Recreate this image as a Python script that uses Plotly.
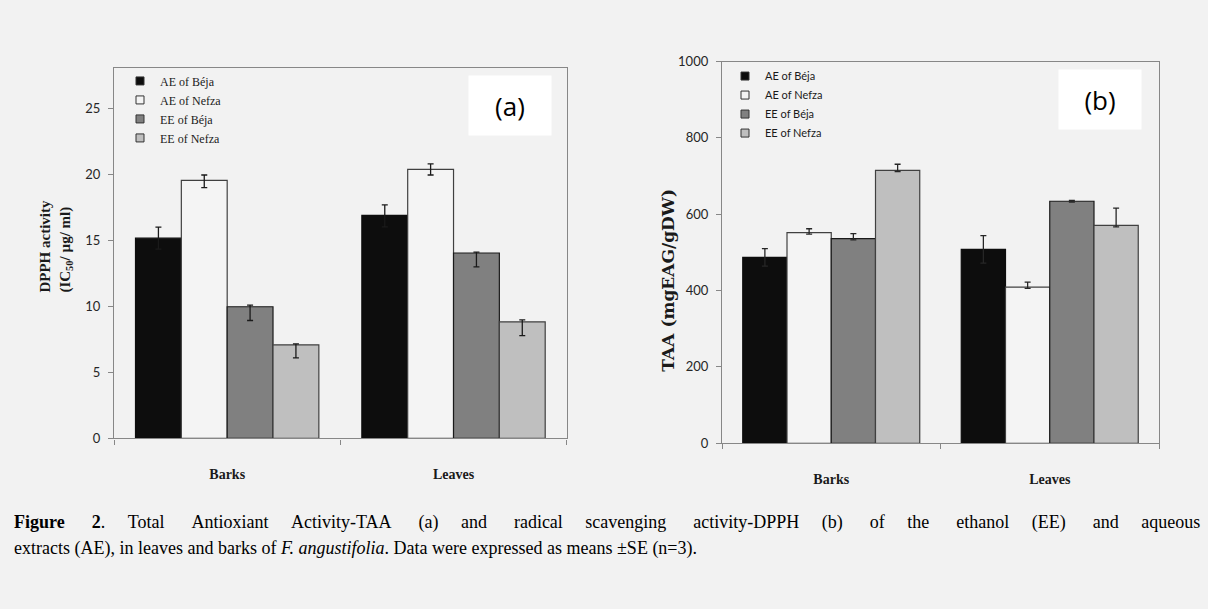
import plotly.graph_objects as go

W, H = 1208, 609

categories = ["Barks", "Leaves"]
series_names = ["AE of Béja", "AE of Nefza", "EE of Béja", "EE of Nefza"]
series_colors = ["#0d0d0d", "#f4f4f4", "#808080", "#bfbfbf"]

# Panel (a): DPPH activity (IC50 / µg/ml)
dpph_ae_beja = [15.15, 16.87]
dpph_ae_nefza = [19.53, 20.35]
dpph_ee_beja = [9.96, 14.03]
dpph_ee_nefza = [7.08, 8.82]
dpph_err_plus = [[0.83, 0.80], [0.40, 0.43], [0.13, 0.07], [0.07, 0.15]]
dpph_err_minus = [[0.83, 0.87], [0.55, 0.42], [1.04, 1.05], [0.98, 1.05]]

# Panel (b): TAA (mgEAG/gDW)
taa_ae_beja = [487, 508]
taa_ae_nefza = [552, 409]
taa_ee_beja = [536, 634]
taa_ee_nefza = [715, 571]
taa_err_plus = [[23, 36], [10, 13], [13, 2], [16, 45]]
taa_err_minus = [[23, 36], [4, 3], [3, 2], [3, 4]]

y_ticks_a = [0, 5, 10, 15, 20, 25]
y_ticks_b = [0, 200, 400, 600, 800, 1000]

caption_line1_words = ["<b>Figure", "2</b>.", "Total", "Antioxiant", "Activity-TAA", "(a)", "and",
                       "radical", "scavenging", "activity-DPPH", "(b)", "of", "the", "ethanol",
                       "(EE)", "and", "aqueous"]
caption_line2 = ("extracts (AE), in leaves and barks of <i>F. angustifolia</i>. "
                 "Data were expressed as means ±SE (n=3).")

dpph = [dpph_ae_beja, dpph_ae_nefza, dpph_ee_beja, dpph_ee_nefza]
taa = [taa_ae_beja, taa_ae_nefza, taa_ee_beja, taa_ee_nefza]

BG = "#f2f2f2"
AXC = "#878787"
line_cols = ["#0d0d0d", "#404040", "#1a1a1a", "#404040"]

fig = go.Figure()

for i, name in enumerate(series_names):
    fig.add_trace(go.Bar(
        x=categories, y=dpph[i], name=name, xaxis="x", yaxis="y",
        marker=dict(color=series_colors[i], line=dict(color=line_cols[i], width=1.2)),
        error_y=dict(type="data", symmetric=False, array=dpph_err_plus[i],
                     arrayminus=dpph_err_minus[i], color="#1a1a1a", thickness=1.3, width=3),
        showlegend=False,
    ))
for i, name in enumerate(series_names):
    fig.add_trace(go.Bar(
        x=categories, y=taa[i], name=name, xaxis="x2", yaxis="y2",
        marker=dict(color=series_colors[i], line=dict(color=line_cols[i], width=1.2)),
        error_y=dict(type="data", symmetric=False, array=taa_err_plus[i],
                     arrayminus=taa_err_minus[i], color="#262626", thickness=1.3, width=3),
        showlegend=False,
    ))

# legend entries (small square swatches)
for i, name in enumerate(series_names):
    fig.add_trace(go.Scatter(
        x=[None], y=[None], mode="markers", name=name, xaxis="x", yaxis="y",
        marker=dict(symbol="square", size=8, color=series_colors[i],
                    line=dict(color="#333333", width=1)),
        legend="legend", showlegend=True,
    ))
    fig.add_trace(go.Scatter(
        x=[None], y=[None], mode="markers", name=name, xaxis="x2", yaxis="y2",
        marker=dict(symbol="square", size=8, color=series_colors[i],
                    line=dict(color="#333333", width=1)),
        legend="legend2", showlegend=True,
    ))

def px_x(v):
    return v / W

def px_y(v):
    return 1 - v / H

xa_common = dict(
    type="category", showline=True, linecolor=AXC, linewidth=1.3, mirror=True,
    ticks="outside", tickson="boundaries", ticklen=5, tickcolor=AXC,
    tickfont=dict(family="Liberation Serif", size=14, color="#1a1a1a", weight="bold"),
    ticklabelstandoff=23, showgrid=False, zeroline=False,
)
ya_common = dict(
    showline=True, linecolor=AXC, linewidth=1.3, mirror=True,
    ticks="outside", ticklen=5, tickcolor=AXC, showgrid=False, zeroline=False,
    ticklabelstandoff=5,
)

# justified first caption line: widen the word gaps
caption_line1 = caption_line1_words[0]
for k, wd in enumerate(caption_line1_words[1:]):
    caption_line1 += ("\u00a0" * (6 if k % 2 == 0 else 5)) + wd

fig.update_layout(
    width=W, height=H,
    paper_bgcolor=BG, plot_bgcolor=BG,
    margin=dict(l=0, r=0, t=0, b=0),
    barmode="group", bargap=0.19, bargroupgap=0,
    xaxis=dict(domain=[px_x(114), px_x(566.7)], anchor="y", **xa_common),
    yaxis=dict(domain=[px_y(442), px_y(62)], anchor="x", range=[0, 28],
               tickvals=y_ticks_a, tickfont=dict(family="Lato", size=13, color="#262626"),
               **ya_common),
    xaxis2=dict(domain=[px_x(722), px_x(1159)], anchor="y2", **xa_common),
    yaxis2=dict(domain=[px_y(447), px_y(55)], anchor="x2", range=[0, 1000],
                tickvals=y_ticks_b, tickfont=dict(family="Lato", size=13, color="#262626"),
                **ya_common),
    legend=dict(x=px_x(120), y=px_y(60), xanchor="left", yanchor="top",
                bgcolor="rgba(0,0,0,0)", borderwidth=0, tracegroupgap=0,
                font=dict(family="Liberation Serif", size=12, color="#1a1a1a"),
                itemwidth=30),
    legend2=dict(x=px_x(725), y=px_y(55), xanchor="left", yanchor="top",
                 bgcolor="rgba(0,0,0,0)", borderwidth=0, tracegroupgap=0,
                 font=dict(family="Lato", size=11, color="#1a1a1a"),
                 itemwidth=30),
    annotations=[
        dict(text="(a)", xref="paper", yref="paper", x=px_x(510), y=px_y(100),
             xanchor="center", yanchor="middle", showarrow=False,
             font=dict(family="Open Sans", size=26, color="#000000"),
             bgcolor="#ffffff", width=80, height=57),
        dict(text="(b)", xref="paper", yref="paper", x=px_x(1100), y=px_y(94),
             xanchor="center", yanchor="middle", showarrow=False,
             font=dict(family="Open Sans", size=26, color="#000000"),
             bgcolor="#ffffff", width=80, height=57),
        dict(text="DPPH activity<br>(IC<sub>50</sub>/ µg/ ml)", xref="paper", yref="paper",
             x=px_x(56), y=px_y(245), xanchor="center", yanchor="middle",
             textangle=-90, showarrow=False, align="left",
             font=dict(family="Liberation Serif", size=15, color="#1a1a1a", weight="bold")),
        dict(text="TAA (mgEAG/gDW)", xref="paper", yref="paper",
             x=px_x(668), y=px_y(280), xanchor="center", yanchor="middle",
             textangle=-90, showarrow=False,
             font=dict(family="DejaVu Serif", size=17, color="#1a1a1a", weight="bold")),
        dict(text=caption_line1, xref="paper", yref="paper", x=px_x(12), y=px_y(528),
             xanchor="left", yanchor="middle", align="left", showarrow=False,
             font=dict(family="Liberation Serif", size=18, color="#000000")),
        dict(text=caption_line2, xref="paper", yref="paper", x=px_x(12), y=px_y(555),
             xanchor="left", yanchor="middle", align="left", showarrow=False,
             font=dict(family="Liberation Serif", size=18, color="#000000")),
    ],
)

fig.write_html("out.html", config={"displayModeBar": False},
               post_script="document.body.style.margin='0';document.body.style.background='#f2f2f2';")
